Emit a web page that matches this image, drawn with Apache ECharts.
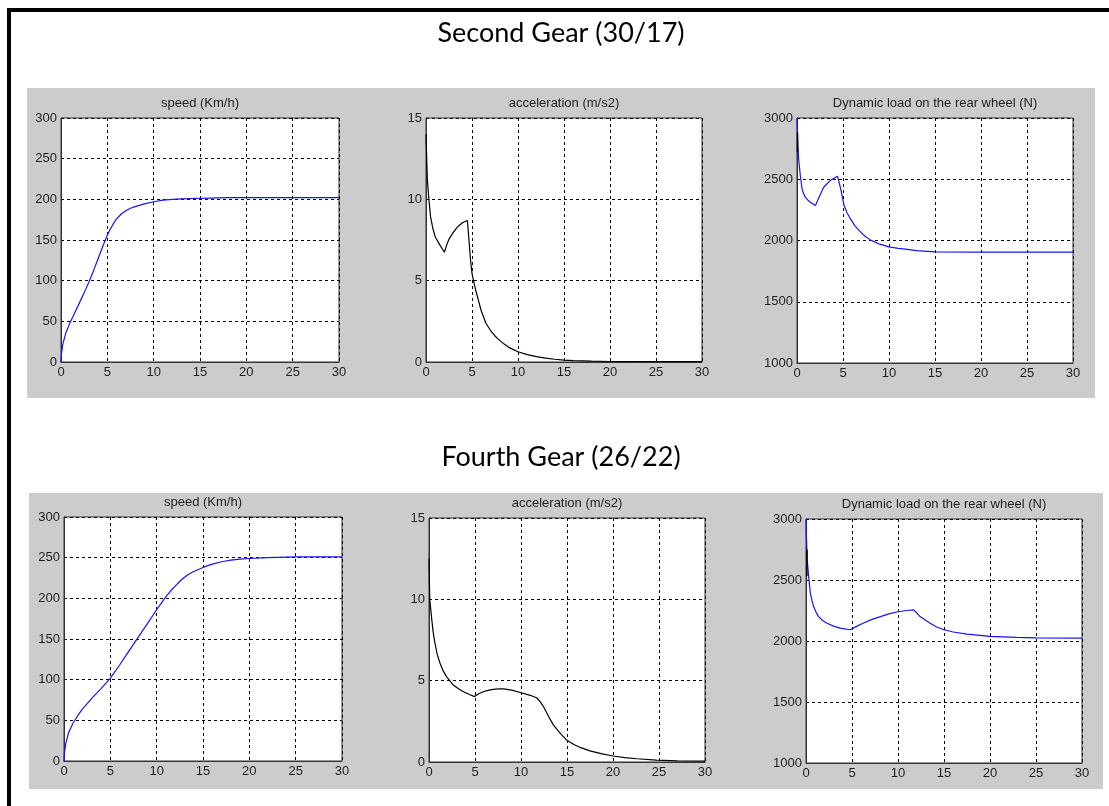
<!DOCTYPE html>
<html>
<head>
<meta charset="utf-8">
<script src="https://cdn.jsdelivr.net/npm/echarts@6/dist/echarts.min.js"></script>
<style>
html,body{margin:0;padding:0;background:#fff;}
#c{width:1109px;height:806px;}
</style>
</head>
<body>
<div id="c"></div>
<script>
// ---- Data ----
// Second gear (30/17)
const tSpeed2 = [0, 0.05, 0.2, 0.5, 1, 1.5, 2, 2.5, 3, 3.5, 4, 4.5, 5, 5.25, 5.5, 5.75, 6, 6.5, 7, 7.5, 8, 9, 10, 11, 12, 13, 14, 16, 18, 20, 25, 30];
const speed2  = [0, 10, 22, 35, 49, 61, 73, 85, 98, 112, 127, 142, 156, 162, 167, 172, 176, 182, 186, 189, 191, 194.5, 197, 199, 200, 200.5, 201, 201.5, 202, 202, 202, 202];

const tAcc2 = [0, 0.08, 0.15, 0.3, 0.5, 0.75, 1, 1.5, 2, 2.25, 2.5, 3, 3.5, 4, 4.5, 4.55, 4.7, 4.85, 5, 5.3, 5.6, 6, 6.5, 7, 7.5, 8, 8.5, 9, 10, 11, 12, 13, 14, 15, 16, 18, 20, 25, 30];
const acc2  = [14, 12.5, 11.2, 10.1, 8.9, 8.2, 7.7, 7.2, 6.75, 7.2, 7.55, 8.0, 8.35, 8.58, 8.7, 8.6, 7.3, 6.2, 5.45, 4.65, 4.0, 3.15, 2.4, 1.95, 1.6, 1.33, 1.1, 0.9, 0.63, 0.45, 0.33, 0.24, 0.17, 0.12, 0.08, 0.05, 0.03, 0.02, 0.02];

const tLoad2 = [0, 0.05, 0.1, 0.18, 0.36, 0.55, 0.7, 0.9, 1.2, 1.45, 2, 2.4, 2.9, 3.6, 4.4, 4.55, 4.75, 5.1, 5.45, 5.8, 6.3, 6.9, 7.4, 8, 9, 10, 11, 12, 13, 15, 20, 25, 30];
const load2  = [3000, 2880, 2780, 2665, 2530, 2422, 2385, 2354, 2328, 2313, 2286, 2354, 2435, 2489, 2525, 2530, 2422, 2290, 2225, 2178, 2120, 2070, 2035, 2003, 1970, 1948, 1936, 1928, 1918, 1907, 1905, 1905, 1905];
const tLoadSpike2 = [0.05, 0.05];
const loadSpike2  = [2880, 2720];

// Fourth gear (26/22)
const tSpeed4 = [0, 0.05, 0.2, 0.5, 1, 1.5, 2, 3, 4, 5, 6, 7, 8, 9, 10, 11, 11.5, 12, 12.5, 13, 13.5, 14, 15, 16, 17, 18, 19, 20, 22, 25, 30];
const speed4  = [0, 10, 22, 35, 47, 56, 64, 77, 89, 102, 118, 135, 152, 169, 186, 202, 209, 215, 221, 226, 230, 233, 238, 242, 245, 247, 248.3, 249, 250, 251, 251];

const tAcc4 = [0, 0.06, 0.08, 0.15, 0.3, 0.45, 0.65, 0.9, 1.2, 1.5, 1.9, 2.65, 3.2, 3.75, 4.4, 4.95, 5.4, 5.9, 6.5, 7, 7.6, 8.1, 9, 10, 11, 11.7, 12.1, 12.5, 13, 13.5, 14, 14.5, 15, 15.75, 16.5, 17.5, 18.7, 20, 21.3, 22.6, 24.7, 27, 30];
const acc4  = [12.5, 12.5, 10, 9.6, 8.75, 8.0, 7.3, 6.6, 6.07, 5.65, 5.25, 4.73, 4.5, 4.32, 4.15, 4.02, 4.2, 4.32, 4.42, 4.47, 4.49, 4.49, 4.42, 4.26, 4.1, 3.95, 3.7, 3.35, 2.8, 2.3, 1.95, 1.62, 1.34, 1.08, 0.88, 0.68, 0.51, 0.37, 0.27, 0.2, 0.12, 0.07, 0.05];

const tLoad4 = [0, 0.05, 0.15, 0.29, 0.47, 0.65, 0.83, 1.1, 1.37, 1.8, 2.28, 3, 3.7, 4.8, 5.5, 6.2, 7.1, 8.1, 9, 10, 11, 11.7, 12.1, 12.4, 13, 13.5, 14.2, 15, 16, 17.5, 20, 22.9, 25, 30];
const load4  = [3000, 2850, 2650, 2528, 2392, 2330, 2282, 2235, 2200, 2168, 2146, 2122, 2106, 2092, 2120, 2146, 2175, 2200, 2222, 2240, 2250, 2255, 2225, 2200, 2170, 2146, 2115, 2092, 2074, 2057, 2038, 2030, 2025, 2023];
const tLoadSpike4 = [0.1, 0.1];
const loadSpike4  = [2750, 2530];

const mainTitles = ['Second Gear (30/17)', 'Fourth Gear (26/22)'];
const subTitles = ['speed (Km/h)', 'acceleration (m/s2)', 'Dynamic load on the rear wheel (N)'];
const xRange = [0, 30, 5];
const yRanges = [[0, 300, 50], [0, 15, 5], [1000, 3000, 500]];

// ---- Layout ----
const grids = [
  {left: 61, top: 118, width: 278, height: 244},
  {left: 426, top: 118, width: 276, height: 244},
  {left: 797, top: 118, width: 276, height: 245},
  {left: 64, top: 517, width: 278, height: 244},
  {left: 429, top: 518, width: 276, height: 244},
  {left: 806, top: 519, width: 276, height: 244}
];

const zip = (a, b) => a.map((v, i) => [v, b[i]]);
const FONT = 'Liberation Sans, Arial, sans-serif';

const xAxes = grids.map((g, i) => ({
  type: 'value', gridIndex: i, min: xRange[0], max: xRange[1], interval: xRange[2],
  axisLine: {show: true, onZero: false, lineStyle: {color: '#333', width: 1}},
  axisTick: {show: false},
  axisLabel: {fontSize: 13, color: '#1e1e1e', margin: 4, fontFamily: FONT, formatter: v => String(v)},
  splitLine: {show: true, lineStyle: {color: '#000', type: [3, 3], width: 1}}
}));
const yAxes = grids.map((g, i) => {
  const r = yRanges[i % 3];
  return {
    type: 'value', gridIndex: i, min: r[0], max: r[1], interval: r[2],
    axisLine: {show: true, onZero: false, lineStyle: {color: '#333', width: 1}},
    axisTick: {show: false},
    axisLabel: {fontSize: 13, color: '#1e1e1e', margin: 4, fontFamily: FONT, formatter: v => String(v)},
    splitLine: {show: true, lineStyle: {color: '#000', type: [3, 3], width: 1}}
  };
});

function line(i, t, v, color, w) {
  return {
    type: 'line', xAxisIndex: i, yAxisIndex: i, data: zip(t, v),
    showSymbol: false, symbol: 'none', smooth: false, silent: true,
    lineStyle: {color: color, width: w || 1.2}, z: 3
  };
}

const series = [
  line(0, tSpeed2, speed2, '#1414ff'),
  line(1, tAcc2, acc2, '#000000'),
  line(2, tLoad2, load2, '#1414ff'),
  line(2, tLoadSpike2, loadSpike2, '#000000', 1.5),
  line(3, tSpeed4, speed4, '#1414ff'),
  line(4, tAcc4, acc4, '#000000'),
  line(5, tLoad4, load4, '#1414ff'),
  line(5, tLoadSpike4, loadSpike4, '#000000', 1.5)
];

const graphic = [
  {type: 'rect', z: -10, shape: {x: 27, y: 88, width: 1068, height: 310}, style: {fill: '#cccccc'}},
  {type: 'rect', z: -10, shape: {x: 29, y: 493, width: 1074, height: 296}, style: {fill: '#cccccc'}},
  {type: 'rect', z: 20, shape: {x: 7, y: 8, width: 1102, height: 4}, style: {fill: '#000'}},
  {type: 'rect', z: 20, shape: {x: 7, y: 8, width: 4, height: 798}, style: {fill: '#000'}},
  {type: 'text', z: 20, x: 561, y: 33, style: {text: mainTitles[0], font: '27px Lato, Carlito, sans-serif', fill: '#000', textAlign: 'center', textVerticalAlign: 'middle'}},
  {type: 'text', z: 20, x: 561, y: 457, style: {text: mainTitles[1], font: '27px Lato, Carlito, sans-serif', fill: '#000', textAlign: 'center', textVerticalAlign: 'middle'}}
];
grids.forEach((g, i) => {
  graphic.push({type: 'text', z: 20, x: g.left + g.width / 2, y: g.top - 15,
    style: {text: subTitles[i % 3], font: '13px ' + FONT, fill: '#222', textAlign: 'center', textVerticalAlign: 'middle'}});
});

const chart = echarts.init(document.getElementById('c'), null, {renderer: 'canvas'});
chart.setOption({
  animation: false,
  backgroundColor: '#fff',
  grid: grids.map(g => Object.assign({show: true, backgroundColor: '#fff', borderColor: '#333', borderWidth: 1, containLabel: false}, g)),
  xAxis: xAxes,
  yAxis: yAxes,
  series: series,
  graphic: graphic
});
</script>
</body>
</html>
